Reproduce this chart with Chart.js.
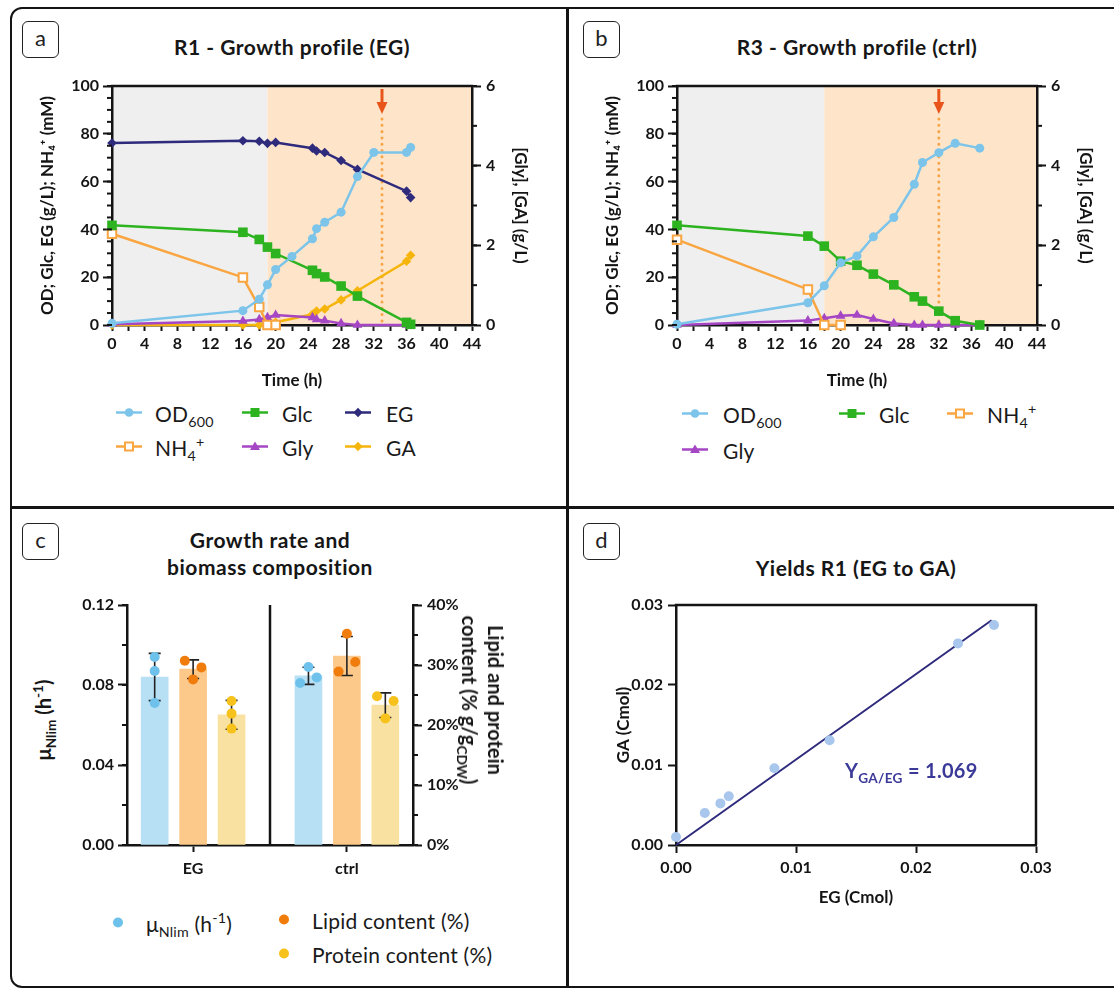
<!DOCTYPE html>
<html><head><meta charset="utf-8">
<script src="https://cdn.jsdelivr.net/npm/chart.js@4.4.1/dist/chart.umd.min.js"></script>
<style>
body{margin:0;width:1114px;height:989px;position:relative;overflow:hidden;background:#fff;font-family:Lato,"DejaVu Sans",sans-serif;color:#161616}
.frame{position:absolute;left:10px;top:7px;width:1130px;height:981px;border:2.5px solid #141414;border-radius:12px 0 0 12px;box-sizing:border-box}
.bar{position:absolute;background:#141414}
.lbl{position:absolute;width:37px;height:37px;border:1.5px solid #222;border-radius:6px;box-sizing:border-box;font-size:22px;text-align:center;line-height:31px;color:#222}
.ttl{position:absolute;transform:translate(-50%,-50%);font-weight:700;font-size:21px;letter-spacing:0.5px;white-space:nowrap;text-align:center;line-height:27px}
canvas{position:absolute}
.lt{position:absolute;transform:translateY(-50%);font-size:21px;letter-spacing:0.2px;white-space:nowrap;color:#1a1a1a;line-height:24px}
.ic{position:absolute;transform:translateY(-50%)}
.rot{position:absolute;white-space:nowrap;font-weight:700;font-size:20px;text-align:center;line-height:26px}
sub{font-size:0.68em;vertical-align:-0.35em;line-height:0}
sup{font-size:0.68em;vertical-align:0.62em;line-height:0}
</style></head>
<body>
<div class="frame"></div>
<div class="bar" style="left:566px;top:7px;width:2.5px;height:981px"></div>
<div class="bar" style="left:10px;top:506px;width:1110px;height:2.5px"></div>

<div class="lbl" style="left:22px;top:21px">a</div>
<div class="lbl" style="left:583px;top:21px">b</div>
<div class="lbl" style="left:22px;top:523px">c</div>
<div class="lbl" style="left:583px;top:523px">d</div>

<div class="ttl" style="left:292px;top:46px">R1 - Growth profile (EG)</div>
<div class="ttl" style="left:857px;top:46px">R3 - Growth profile (ctrl)</div>
<div class="ttl" style="left:270px;top:553px">Growth rate and<br>biomass composition</div>
<div class="ttl" style="left:856px;top:567px">Yields R1 (EG to GA)</div>

<canvas id="ca" width="520" height="325" style="left:20px;top:70px"></canvas>
<canvas id="cb" width="520" height="325" style="left:585px;top:70px"></canvas>
<canvas id="cc" width="410" height="295" style="left:60px;top:590px"></canvas>
<canvas id="cd" width="470" height="322" style="left:600px;top:590px"></canvas>

<div class="rot" style="left:43px;top:720px;transform:translate(-50%,-50%) rotate(-90deg)">μ<sub>Nlim</sub> (h<sup>-1</sup>)</div>
<div class="rot" style="left:483px;top:700px;transform:translate(-50%,-50%) rotate(90deg)">Lipid and protein<br>content (% g/g<sub>CDW</sub>)</div>
<div id="yld" class="rot" style="left:845px;top:757px;color:#3b3a98;font-size:20px;letter-spacing:0.3px;text-align:left"></div>

<div id="legends"></div>

<script>
// ================= DATA =================
// Panel a — R1 (EG)
const A_TIME = [0, 16, 18, 19, 20, 22, 24.5, 25, 26, 28, 30, 32, 36, 36.5];
const A_OD   = [0.7, 6.0, 10.8, 16.8, 23.2, 28.7, 36.1, 40.3, 43.0, 47.2, 62.1, 72.2, 72.2, 74.3];
const A_GLC  = [41.7, 38.8, 35.8, 32.6, 29.9, null, 22.9, 21.5, 20.1, 16.3, 12.1, null, 1.1, 0.3];
const A_EG   = [76.1, 77.1, 76.9, 76.0, 76.4, null, 74.0, 72.8, 72.2, 68.8, 65.1, null, 56.0, 53.3];
const A_NH4  = [38.2, 19.9, 7.5, 0, 0, null, null, null, null, null, null, null, null, null];
const A_GLY  = [0.02, 0.10, 0.14, 0.19, 0.25, null, 0.19, 0.14, 0.11, 0.04, 0, null, 0, 0];
const A_GA   = [0, 0, 0, 0, 0.07, null, 0.27, 0.35, 0.40, 0.63, 0.86, null, 1.60, 1.75];
const A_PHASE_SWITCH = 19;
const A_FEED = 33;

// Panel b — R3 (ctrl)
const B_TIME = [0, 16, 18, 20, 22, 24, 26.5, 29, 30, 32, 34, 37];
const B_OD   = [0.3, 9.3, 16.4, 26.0, 28.9, 36.9, 45.0, 58.9, 68.0, 72.1, 76.0, 74.0];
const B_GLC  = [41.7, 37.2, 33.0, 26.7, 25.0, 21.3, 16.8, 11.8, 10.0, 5.8, 1.8, 0];
const B_NH4  = [35.7, 14.9, 0, 0, null, null, null, null, null, null, null, null];
const B_GLY  = [0, 0.11, 0.17, 0.23, 0.25, 0.15, 0.04, 0, 0, 0, 0, 0];
const B_PHASE_SWITCH = 18;
const B_FEED = 32;

// Panel c — growth rate and biomass composition
const C_GROUPS = ['EG', 'ctrl'];
const MU_MEAN = [0.0840, 0.0846];
const MU_SD = [0.0118, 0.0043];
const MU_REPS = [[0.094, 0.087, 0.071], [0.089, 0.0838, 0.081]];
const LIPID_MEAN = [29.3, 31.5];
const LIPID_SD = [1.55, 3.25];
const LIPID_REPS = [[30.7, 29.6, 27.6], [35.2, 30.5, 28.9]];
const PROTEIN_MEAN = [21.7, 23.3];
const PROTEIN_SD = [2.4, 2.05];
const PROTEIN_REPS = [[24.0, 21.9, 19.4], [24.8, 24.0, 21.1]];

// Panel d — yields
const D_EG = [0, 0.0024, 0.0037, 0.0044, 0.0082, 0.0128, 0.0235, 0.0265];
const D_GA = [0.0010, 0.0040, 0.0052, 0.0061, 0.0096, 0.0131, 0.0252, 0.0275];
const D_FIT_X = [0, 0.0263];
const D_FIT_Y = [0, 0.0281];
const D_YIELD = 1.069;

// ================= STYLE =================
Chart.defaults.font.family = "Lato, 'DejaVu Sans', sans-serif";
Chart.defaults.color = '#141414';
const INK = '#141414';
const TICK_FONT = {size: 16, weight: 'bold'};
const TITLE_FONT = {size: 17, weight: 'bold'};
const COL = {OD: '#7cc4e9', GLC: '#2db320', EG: '#2e2a7c', NH4: '#f9a540', GLY: '#a546c4', GA: '#f6b50c'};
const MARK = {
  circle: {style: 'circle', r: 4.5},
  square: {style: 'rect', r: 6.8},
  open: {style: 'rect', r: 6},
  diamond: {style: 'rectRot', r: 4.8},
  triangle: {style: 'triangle', r: 5.6}
};

function decor(cfg) {
  return {
    id: 'decor',
    beforeDraw(chart) {
      const {ctx, chartArea: a, scales} = chart;
      (cfg.phases || []).forEach(ph => {
        const x0 = scales.x.getPixelForValue(ph.from), x1 = scales.x.getPixelForValue(ph.to);
        ctx.fillStyle = ph.color;
        ctx.fillRect(x0, a.top, x1 - x0, a.bottom - a.top);
      });
    },
    beforeDatasetsDraw(chart) {
      const {ctx, chartArea: a, scales} = chart;
      ctx.save();
      ctx.strokeStyle = INK; ctx.lineWidth = 2.5;
      if (cfg.top) { ctx.beginPath(); ctx.moveTo(a.left - 1.2, a.top); ctx.lineTo(a.right + 1.2, a.top); ctx.stroke(); }
      if (cfg.right) { ctx.beginPath(); ctx.moveTo(a.right, a.top); ctx.lineTo(a.right, a.bottom); ctx.stroke(); }
      if (cfg.divider !== undefined) {
        const x = scales.x.getPixelForValue(cfg.divider);
        ctx.beginPath(); ctx.moveTo(x, a.top); ctx.lineTo(x, a.bottom); ctx.stroke();
      }
      if (cfg.feed !== undefined) {
        const x = scales.x.getPixelForValue(cfg.feed);
        ctx.strokeStyle = '#f7a448'; ctx.lineWidth = 3; ctx.lineCap = 'round';
        ctx.setLineDash([0.01, 6.3]);
        ctx.beginPath(); ctx.moveTo(x, a.top + 33); ctx.lineTo(x, a.bottom - 2); ctx.stroke();
        ctx.setLineDash([]);
        ctx.strokeStyle = ctx.fillStyle = '#e9541b'; ctx.lineCap = 'butt';
        ctx.beginPath(); ctx.moveTo(x, a.top + 3); ctx.lineTo(x, a.top + 18); ctx.stroke();
        ctx.beginPath(); ctx.moveTo(x - 5.5, a.top + 16); ctx.lineTo(x + 5.5, a.top + 16); ctx.lineTo(x, a.top + 28); ctx.closePath(); ctx.fill();
      }
      ctx.restore();
    },
    afterDatasetDraw(chart, args) {
      const ds = chart.data.datasets[args.index];
      if (!ds.errorBars) return;
      const ctx = chart.ctx, meta = args.meta, ys = meta.vScale;
      ctx.save(); ctx.strokeStyle = '#222'; ctx.lineWidth = 1.6;
      meta.data.forEach((el, i) => {
        const m = ds.data[i].y, sd = ds.errorBars[i];
        const yt = ys.getPixelForValue(m + sd), yb = ys.getPixelForValue(m - sd), x = el.x;
        ctx.beginPath();
        ctx.moveTo(x, yt); ctx.lineTo(x, yb);
        ctx.moveTo(x - 6, yt); ctx.lineTo(x + 6, yt);
        ctx.moveTo(x - 6, yb); ctx.lineTo(x + 6, yb);
        ctx.stroke();
      });
      ctx.restore();
    },
    afterDraw(chart) {
      const {ctx, chartArea: a, scales} = chart;
      ctx.save(); ctx.strokeStyle = INK; ctx.lineWidth = 2;
      (cfg.minor || []).forEach(([id, step, len]) => {
        const s = scales[id];
        const n = Math.round((s.max - s.min) / step);
        for (let i = 0; i <= n; i++) {
          const p = s.getPixelForValue(s.min + i * step);
          ctx.beginPath();
          if (s.position === 'left') { ctx.moveTo(a.left, p); ctx.lineTo(a.left - len, p); }
          else if (s.position === 'right') { ctx.moveTo(a.right, p); ctx.lineTo(a.right + len, p); }
          else { ctx.moveTo(p, a.bottom); ctx.lineTo(p, a.bottom + len); }
          ctx.stroke();
        }
      });
      ctx.restore();
    }
  };
}

function axis(extra) {
  const base = {
    ticks: {font: TICK_FONT, color: INK, autoSkip: false, maxRotation: 0, padding: 4},
    grid: {drawOnChartArea: false, drawTicks: true, tickLength: 9, tickWidth: 2, tickColor: INK, color: INK},
    border: {display: true, width: 2.5, color: INK}
  };
  const out = Object.assign({}, base, extra);
  out.ticks = Object.assign({}, base.ticks, extra.ticks || {});
  out.grid = Object.assign({}, base.grid, extra.grid || {});
  return out;
}

const COMMON = {responsive: false, animation: false, devicePixelRatio: 1, events: []};

function growthChart(id, time, list, phaseSwitch, feed) {
  const datasets = list.map((s, k) => {
    const mk = MARK[s.shape];
    return {
      type: 'line', label: s.label,
      data: time.map((t, i) => ({x: t, y: s.values[i]})),
      yAxisID: s.axis, borderColor: s.color, borderWidth: 2.5, tension: 0, spanGaps: true, clip: false,
      pointStyle: mk.style, pointRadius: mk.r, pointHoverRadius: mk.r,
      pointBackgroundColor: s.shape === 'open' ? '#ffffff' : s.color,
      pointBorderColor: s.color, pointBorderWidth: s.shape === 'open' ? 2 : 0, order: k
    };
  });
  return new Chart(document.getElementById(id), {
    type: 'line',
    data: {datasets},
    options: Object.assign({}, COMMON, {
      layout: {padding: {left: 13, top: 16, right: 5, bottom: 0}},
      plugins: {legend: {display: false}, tooltip: {enabled: false}},
      scales: {
        x: axis({type: 'linear', min: 0, max: 44,
          ticks: {stepSize: 2, padding: 3, callback: v => (v % 4 === 0 ? String(v) : '')},
          grid: {tickLength: 6},
          title: {display: true, text: 'Time (h)', font: TITLE_FONT, color: INK},
          afterFit: s => { s.height = 70; }}),
        y: axis({type: 'linear', position: 'left', min: 0, max: 100,
          ticks: {stepSize: 20},
          title: {display: true, text: 'OD; Glc, EG (g/L); NH₄⁺ (mM)', font: TITLE_FONT, color: INK},
          afterFit: s => { s.width = 79; }}),
        y1: axis({type: 'linear', position: 'right', min: 0, max: 6,
          ticks: {stepSize: 2, padding: 5},
          title: {display: true, text: '[Gly], [GA] (g/L)', font: TITLE_FONT, color: INK},
          afterFit: s => { s.width = 63; }})
      }
    }),
    plugins: [decor({
      phases: [{from: 0, to: phaseSwitch, color: '#efefef'}, {from: phaseSwitch, to: 44, color: '#fee5ca'}],
      feed, top: true, minor: [['y', 5, 5], ['y1', 1, 5]]
    })]
  });
}

growthChart('ca', A_TIME, [
  {label: 'OD600', values: A_OD, color: COL.OD, shape: 'circle', axis: 'y'},
  {label: 'EG', values: A_EG, color: COL.EG, shape: 'diamond', axis: 'y'},
  {label: 'Glc', values: A_GLC, color: COL.GLC, shape: 'square', axis: 'y'},
  {label: 'NH4+', values: A_NH4, color: COL.NH4, shape: 'open', axis: 'y'},
  {label: 'Gly', values: A_GLY, color: COL.GLY, shape: 'triangle', axis: 'y1'},
  {label: 'GA', values: A_GA, color: COL.GA, shape: 'diamond', axis: 'y1'}
], A_PHASE_SWITCH, A_FEED);

growthChart('cb', B_TIME, [
  {label: 'OD600', values: B_OD, color: COL.OD, shape: 'circle', axis: 'y'},
  {label: 'Glc', values: B_GLC, color: COL.GLC, shape: 'square', axis: 'y'},
  {label: 'NH4+', values: B_NH4, color: COL.NH4, shape: 'open', axis: 'y'},
  {label: 'Gly', values: B_GLY, color: COL.GLY, shape: 'triangle', axis: 'y1'}
], B_PHASE_SWITCH, B_FEED);

// ---- panel c ----
const C_SLOT = {mu: -0.25, lipid: 0, protein: 0.25};
const C_JIT_STEP = 0.054;
const C_JITTER = {mu: [[0, 0, 0], [0, 1, -1]], lipid: [[-1, 1, 0], [0, 1, -1]], protein: [[0, 0, 0], [-1, 1, 0]]};
const C_BAR_COL = {mu: '#b7e0f4', lipid: '#fdc98b', protein: '#f9e2a1'};
const C_PT_COL = {mu: '#6dc1ea', lipid: '#f07c0c', protein: '#f7c21c'};

function barDs(key, mean, sd, axisId) {
  return {type: 'bar', label: key, data: C_GROUPS.map((g, i) => ({x: i + C_SLOT[key], y: mean[i]})),
    backgroundColor: C_BAR_COL[key], borderWidth: 0, barThickness: 27, grouped: false,
    yAxisID: axisId, order: 2, errorBars: sd};
}
function repDs(key, reps, axisId) {
  const data = [];
  reps.forEach((arr, i) => arr.forEach((v, j) => data.push({x: i + C_SLOT[key] + C_JITTER[key][i][j] * C_JIT_STEP, y: v})));
  return {type: 'scatter', label: key + ' replicates', data, pointRadius: 5, pointHoverRadius: 5,
    backgroundColor: C_PT_COL[key], borderWidth: 0, yAxisID: axisId, order: 1, clip: false};
}

new Chart(document.getElementById('cc'), {
  type: 'bar',
  data: {datasets: [
    barDs('mu', MU_MEAN, MU_SD, 'y'),
    barDs('lipid', LIPID_MEAN, LIPID_SD, 'y1'),
    barDs('protein', PROTEIN_MEAN, PROTEIN_SD, 'y1'),
    repDs('mu', MU_REPS, 'y'),
    repDs('lipid', LIPID_REPS, 'y1'),
    repDs('protein', PROTEIN_REPS, 'y1')
  ]},
  options: Object.assign({}, COMMON, {
    layout: {padding: {left: 0, top: 15, right: 0, bottom: 0}},
    plugins: {legend: {display: false}, tooltip: {enabled: false}},
    scales: {
      x: axis({type: 'linear', min: -0.43, max: 1.43, offset: false,
        afterBuildTicks: s => { s.ticks = C_GROUPS.map((g, i) => ({value: i})); },
        ticks: {padding: 7, callback: v => (C_GROUPS[v] !== undefined ? C_GROUPS[v] : '')},
        grid: {tickLength: 7, offset: false},
        afterFit: s => { s.height = 40; }}),
      y: axis({type: 'linear', position: 'left', min: 0, max: 0.12,
        ticks: {stepSize: 0.04, callback: v => v.toFixed(2)},
        afterFit: s => { s.width = 67; }}),
      y1: axis({type: 'linear', position: 'right', min: 0, max: 40,
        ticks: {stepSize: 10, padding: 5, callback: v => v + '%'},
        afterFit: s => { s.width = 57; }})
    }
  }),
  plugins: [decor({divider: 0.5, minor: [['y', 0.02, 5], ['y1', 5, 5]]})]
});

// ---- panel d ----
new Chart(document.getElementById('cd'), {
  type: 'scatter',
  data: {datasets: [
    {type: 'scatter', label: 'GA vs EG', data: D_EG.map((x, i) => ({x, y: D_GA[i]})),
      pointRadius: 5, pointHoverRadius: 5, backgroundColor: '#a9c6ec', borderWidth: 0, clip: false, order: 1},
    {type: 'line', label: 'fit', data: D_FIT_X.map((x, i) => ({x, y: D_FIT_Y[i]})),
      borderColor: '#2e2a7c', borderWidth: 2, pointRadius: 0, clip: false, order: 2}
  ]},
  options: Object.assign({}, COMMON, {
    layout: {padding: {left: 9, top: 15, right: 34, bottom: 0}},
    plugins: {legend: {display: false}, tooltip: {enabled: false}},
    scales: {
      x: axis({type: 'linear', min: 0, max: 0.03,
        ticks: {stepSize: 0.01, padding: 5, callback: v => v.toFixed(2)},
        grid: {tickLength: 8},
        title: {display: true, text: 'EG (Cmol)', font: TITLE_FONT, color: INK},
        afterFit: s => { s.height = 67; }}),
      y: axis({type: 'linear', min: 0, max: 0.03,
        ticks: {stepSize: 0.01, padding: 5, callback: v => v.toFixed(2)},
        grid: {tickLength: 8},
        title: {display: true, text: 'GA (Cmol)', font: TITLE_FONT, color: INK},
        afterFit: s => { s.width = 67; }})
    }
  }),
  plugins: [decor({top: true, right: true})]
});
document.getElementById('yld').innerHTML = 'Y<sub>GA/EG</sub> = ' + D_YIELD.toFixed(3);

// ---- HTML legends ----
function icon(color, shape, lineOn) {
  let m = '';
  if (shape === 'circle') m = `<circle cx="13" cy="8" r="4.3" fill="${color}"/>`;
  if (shape === 'dot') m = `<circle cx="8" cy="8" r="5" fill="${color}"/>`;
  if (shape === 'square') m = `<rect x="8.5" y="3.5" width="9" height="9" fill="${color}"/>`;
  if (shape === 'open') m = `<rect x="9" y="4" width="8" height="8" fill="#fff" stroke="${color}" stroke-width="2"/>`;
  if (shape === 'diamond') m = `<polygon points="13,3.2 17.6,8 13,12.8 8.4,8" fill="${color}"/>`;
  if (shape === 'triangle') m = `<polygon points="13,3 18,11.5 8,11.5" fill="${color}"/>`;
  const ln = lineOn ? `<line x1="0" y1="8" x2="26" y2="8" stroke="${color}" stroke-width="2.5"/>` : '';
  return `<svg width="26" height="16">${ln}${m}</svg>`;
}
const LEG = [
  // panel a
  {c: COL.OD, s: 'circle', ix: 116, y: 414, tx: 155, t: 'OD<sub>600</sub>'},
  {c: COL.GLC, s: 'square', ix: 242, y: 414, tx: 282, t: 'Glc'},
  {c: COL.EG, s: 'diamond', ix: 345, y: 414, tx: 386, t: 'EG'},
  {c: COL.NH4, s: 'open', ix: 116, y: 448, tx: 155, t: 'NH<sub>4</sub><sup>+</sup>'},
  {c: COL.GLY, s: 'triangle', ix: 242, y: 448, tx: 282, t: 'Gly'},
  {c: COL.GA, s: 'diamond', ix: 345, y: 448, tx: 386, t: 'GA'},
  // panel b
  {c: COL.OD, s: 'circle', ix: 682, y: 415, tx: 723, t: 'OD<sub>600</sub>'},
  {c: COL.GLC, s: 'square', ix: 839, y: 415, tx: 879, t: 'Glc'},
  {c: COL.NH4, s: 'open', ix: 947, y: 415, tx: 987, t: 'NH<sub>4</sub><sup>+</sup>'},
  {c: COL.GLY, s: 'triangle', ix: 682, y: 451, tx: 723, t: 'Gly'},
  // panel c
  {c: C_PT_COL.mu, s: 'dot', ix: 110, y: 924, tx: 146, t: 'μ<sub>Nlim</sub> (h<sup>-1</sup>)', noLine: true},
  {c: C_PT_COL.lipid, s: 'dot', ix: 276, y: 921, tx: 312, t: 'Lipid content (%)', noLine: true},
  {c: C_PT_COL.protein, s: 'dot', ix: 276, y: 955, tx: 312, t: 'Protein content (%)', noLine: true}
];
const legHost = document.getElementById('legends');
LEG.forEach(e => {
  const ic = document.createElement('div');
  ic.className = 'ic'; ic.style.left = e.ix + 'px'; ic.style.top = e.y + 'px';
  ic.innerHTML = icon(e.c, e.s, !e.noLine);
  legHost.appendChild(ic);
  const tx = document.createElement('div');
  tx.className = 'lt'; tx.style.left = e.tx + 'px'; tx.style.top = e.y + 'px';
  tx.innerHTML = e.t;
  legHost.appendChild(tx);
});
</script>
</body></html>
